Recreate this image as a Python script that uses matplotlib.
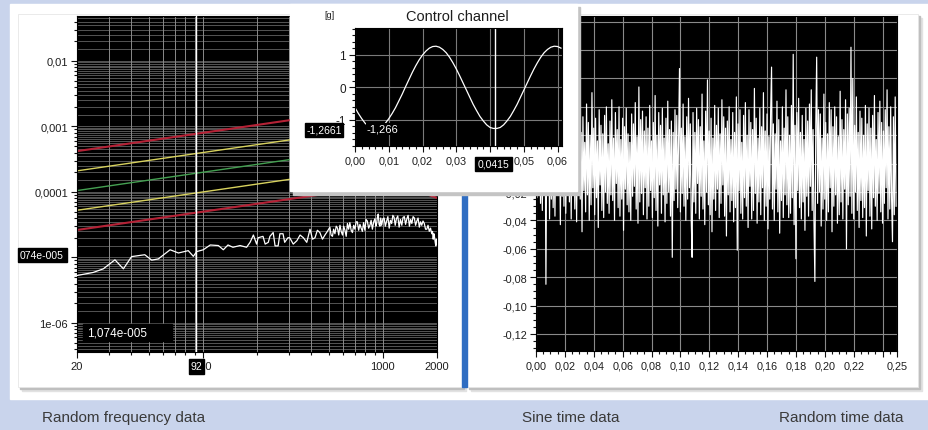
import numpy as np
import matplotlib
matplotlib.use('Agg')
import matplotlib.pyplot as plt
from matplotlib.patches import Rectangle
from matplotlib.ticker import LogLocator, MultipleLocator, NullFormatter

plt.rcParams['font.family'] = ['Liberation Sans', 'DejaVu Sans']
plt.rcParams['axes.unicode_minus'] = False

# ---------------- random frequency data (PSD) ----------------
psd_freq = [20, 24.6, 28, 32.5, 36.2, 40.2, 47.6, 52, 56.6, 65.8, 73.2, 83, 88.6, 92.5,
            100.6, 110, 122, 130, 138, 147, 161, 175, 183, 191, 199, 203, 216, 222, 231,
            236, 246, 252, 262, 268, 279, 285, 297, 304, 318, 333, 347, 362, 378, 394,
            407, 420, 433, 447, 462, 477, 492,
            508, 516, 525, 533, 542, 551, 560, 569, 578, 587, 597, 606, 616, 626, 636, 646,
            656, 667, 678, 689, 700, 711, 722, 734, 746, 758, 770, 782, 795, 807, 820, 834,
            848, 861, 875, 890, 904, 914, 924, 933, 943, 953, 964, 974, 985, 1001, 1017,
            1033, 1050, 1067, 1085, 1102, 1120, 1137, 1155, 1172, 1190, 1211, 1232, 1253,
            1275, 1296, 1317, 1338, 1360, 1382, 1405, 1427, 1450, 1473, 1497, 1521, 1545,
            1570, 1595, 1620, 1645, 1672, 1700, 1727, 1755, 1783, 1812, 1841, 1870, 1888,
            1905, 1922, 1940, 1955, 1970, 1985, 2000]
# values in 1e-6 g^2/Hz
psd_value = [5.3, 5.9, 6.7, 9.2, 6.7, 10.3, 11.0, 9.1, 9.5, 13.1, 11.7, 12.7, 10.4, 12.3,
             13.1, 15.5, 15.2, 13.1, 15.5, 14.3, 15.2, 14.3, 17, 22, 16, 20, 21, 16, 17,
             21, 24, 15, 15, 23, 23, 17, 20, 20, 16, 18, 22, 20, 17, 27,
             19, 20, 26, 24, 19, 22, 25,
             29, 22, 21, 27, 23, 30, 28, 22, 31, 25, 22, 30, 26, 21, 33, 27,
             34, 26, 24, 31, 27, 35, 35, 26, 32, 28, 25, 34, 26, 38, 36, 28,
             31, 37, 27, 35, 39, 30, 33, 41, 46, 32, 30, 40, 31, 39, 40,
             30, 36, 42, 28, 37, 33, 44, 41, 31, 39, 43, 29, 38,
             31, 41, 42, 32, 39, 44, 30, 38, 33, 42, 40, 31, 36,
             40, 29, 35, 31, 36, 33, 27, 27, 31, 25, 28, 23, 25,
             19, 23, 20, 17, 15, 19, 16]
profile_freq = [20, 1200, 2000]
profile_ref = [1.05e-4, 5.40e-4, 3.24e-4]
tol_factor = [4, 2, 1, 0.5, 0.25]
tol_color = ['#b52236', '#d8d25e', '#45a052', '#d8d25e', '#b52236']
tol_width = [1.5, 1.0, 1.0, 1.0, 1.5]
psd_cursor = 92
psd_xticks = [20, 100, 1000, 2000]
psd_xlabels = ['20', '100', '1000', '2000']
psd_yticks = [1e-6, 1e-5, 1e-4, 1e-3, 1e-2]
psd_ylabels = ['1e-06', '', '0,0001', '0,001', '0,01']

# ---------------- sine time data ----------------
sine_t_ms = list(range(62))
sine_g = [-0.62, -0.80, -0.96, -1.10, -1.19, -1.25, -1.27, -1.25, -1.19, -1.10, -0.96,
          -0.80, -0.62, -0.41, -0.20, 0.03, 0.25, 0.47, 0.67, 0.85, 1.00, 1.12, 1.21,
          1.26, 1.27, 1.24, 1.17, 1.07, 0.93, 0.76, 0.57, 0.36, 0.14, -0.08, -0.30,
          -0.52, -0.71, -0.89, -1.03, -1.15, -1.23, -1.26, -1.26, -1.23, -1.15, -1.03,
          -0.89, -0.71, -0.52, -0.30, -0.08, 0.14, 0.36, 0.57, 0.76, 0.93, 1.07, 1.17,
          1.24, 1.27, 1.26, 1.21]
sine_cursor = 0.0415
sine_xticks = [0.00, 0.01, 0.02, 0.03, 0.04, 0.05, 0.06]
sine_xlabels = ['0,00', '0,01', '0,02', '0,03', '', '0,05', '0,06']
sine_yticks = [-1, 0, 1]
sine_ylabels = ['-1', '0', '1']

# ---------------- random time data ----------------
rnd_rate = 1600  # samples per second
rnd_mg = [18, -24, 31, -15, 37, -28, 14, -33, 25, -20, 41, -85, 27, -12, 34, -39, 21, -25, 47, -31,
          15, -37, 28, -18, 38, -14, 23, -43, 32, -23, 17, -30, 39, -35, 12, -21, 44, -27, 24, -39,
          30, -16, 35, -32, 19, -41, 26, -13, 39, -25, 22, -48, 33, -19, 15, -34, 42, -22, 29, -40,
          20, -29, 50, -17, 25, -36, 32, -24, 16, -45, 38, -15, 27, -33, 21, -38, 34, -20, 40, -28,
          14, -35, 30, -22, 45, -26, 18, -40, 36, -14, 24, -31, 40, -37, 17, -25, 32, -47, 26, -18,
          39, -29, 21, -34, 15, -40, 35, -23, 28, -16, 43, -32, 19, -42, 54, -27, 31, -21, 37, -36,
          23, -17, 33, -39, 25, -30, 41, -19, 16, -38, 29, -24, 48, -33, 20, -44, 36, -15, 27, -35,
          39, -22, 18, -41, 32, -28, 44, -20, 24, -37, 30, -66, 22, -26, 38, -18, 34, -31, 17, 67,
          -34, 25, -21, 42, -30, 19, -40, 33, -25, 46, -17, 28, -40, -66, 36, -27, 22, -35, 39, -14,
          31, -39, 26, -23, 49, -32, 16, -43, 37, -20, 59, -29, 23, -36, 32, -48, 18, -25, 41, -33,
          27, -18, 39, -38, 21, -28, 45, -15, 33, -37, 25, -51, 30, -22, 40, -34, 17, -26, 36, -41,
          22, -31, 47, -61, 28, -19, 38, -35, 15, -39, 34, -24, 43, -30, 20, -45, 38, -16, 29, -39,
          24, -33, 53, -21, 32, -42, 18, -27, 39, -36, 26, -17, 50, -40, 23, -30, 35, -46, 19, -25,
          37, 68, -32, 28, -40, 21, -18, 44, -34, 31, -49, 16, -26, 40, -38, 25, -22, 52, -29, 33,
          -38, 20, -35, 41, -24, 77, -43, 27, -67, 36, -19, 46, -31, 22, -39, 34, -27, 17, -47, 39,
          -23, 30, -37, 42, -16, 52, -33, 24, -41, -83, 26, 75, -28, 38, -20, 35, -44, 18, -32, 49,
          -25, 29, -40, 21, -34, 43, -17, 38, -48, 26, -30, 40, -22, 33, -42, 19, -36, 51, -27, 31,
          -39, 24, -18, 45, -60, 35, -29, 39, -23, 82, -35, 60, -39, 27, -20, 47, -33, 22, -45, 37,
          -26, 32, -38, 20, -31, 41, -51, 28, -19, 39, -37, 25, -46, 34, -24, 48, -30, 17, -40, 36,
          -21, 44, -34, 29, -42, 23, -28, 38, -17, 52, -39, 26, -32, 40, -25, -55, 33, -36, 47, -30]
rnd_yticks = [-0.12, -0.10, -0.08, -0.06, -0.04, -0.02, 0.00, 0.02, 0.04, 0.06, 0.08, 0.10]
rnd_ylabels = ['-0,12', '-0,10', '-0,08', '-0,06', '-0,04', '-0,02', '0,00', '0,02',
               '0,04', '0,06', '0,08', '0,10']
rnd_xticks = [0.00, 0.02, 0.04, 0.06, 0.08, 0.10, 0.12, 0.14, 0.16, 0.18, 0.20, 0.22, 0.24, 0.25]
rnd_xlabels = ['0,00', '0,02', '0,04', '0,06', '0,08', '0,10', '0,12', '0,14', '0,16',
               '0,18', '0,20', '0,22', '', '0,25']

captions = ['Random frequency data', 'Sine time data', 'Random time data']

W, H = 929, 431
fig = plt.figure(figsize=(W / 100, H / 100), dpi=100)


def px_axes(x0, y0, x1, y1, z):
    ax = fig.add_axes([x0 / W, 1 - y1 / H, (x1 - x0) / W, (y1 - y0) / H])
    ax.set_zorder(z)
    return ax


def overlay(z):
    ax = px_axes(0, 0, W, H, z)
    ax.set_xlim(0, W)
    ax.set_ylim(H, 0)
    ax.axis('off')
    return ax


def style_ticks(ax, size):
    ax.tick_params(which='both', direction='out', color='#111111', labelcolor='#1e1e1e',
                   labelsize=size, width=0.8)
    ax.tick_params(which='major', length=4.5, pad=2)
    ax.tick_params(which='minor', length=2.5)
    for s in ax.spines.values():
        s.set_color('black')


# background + panels
bg = overlay(0)
bg.add_patch(Rectangle((0, 0), W, H, color='#c9d4ec'))
bg.add_patch(Rectangle((10, 5), W - 10, 395, color='white'))
for x0, y0, x1, y1 in [(18, 15, 462, 388), (467, 15, 918, 388)]:
    bg.add_patch(Rectangle((x0 + 4, y0 + 4), x1 - x0, y1 - y0, color='#e2e2e2'))
    bg.add_patch(Rectangle((x0 + 2, y0 + 2), x1 - x0, y1 - y0, color='#bfbfbf'))
    bg.add_patch(Rectangle((x0, y0), x1 - x0, y1 - y0, facecolor='white', edgecolor='#e6e6e6', lw=0.6))
bg.add_patch(Rectangle((462, 15), 5, 373, color='#2f6dc2'))
for cx, txt in zip([124, 571, 841], captions):
    bg.text(cx, 418, txt, ha='center', va='center', fontsize=11, color='#3a3a3a')

# ---- left: PSD ----
ax1 = px_axes(77, 17, 437, 353, 1)
ax1.set_facecolor('black')
ax1.set_xscale('log')
ax1.set_yscale('log')
ax1.set_xlim(20, 2000)
ax1.set_ylim(3.6e-7, 0.0486)
ax1.set_xticks(psd_xticks, psd_xlabels)
ax1.xaxis.set_minor_locator(LogLocator(base=10, subs=np.arange(2, 10), numticks=20))
ax1.xaxis.set_minor_formatter(NullFormatter())
ax1.set_yticks(psd_yticks, psd_ylabels)
ax1.yaxis.set_minor_locator(LogLocator(base=10, subs=np.arange(2, 10), numticks=20))
ax1.yaxis.set_minor_formatter(NullFormatter())
ax1.grid(which='both', axis='x', color='#8a8a8a', lw=0.7)
for e in range(-7, -1):
    for m in np.arange(1, 10, 0.5):
        ax1.axhline(m * 10.0 ** e, color='#6a6a6a', lw=0.55, zorder=0.5)
style_ticks(ax1, 8)
for fac, c, lw in zip(tol_factor, tol_color, tol_width):
    ax1.plot(profile_freq, np.array(profile_ref) * fac, color=c, lw=lw, zorder=2)
ax1.plot(psd_freq, np.array(psd_value) * 1e-6, color='white', lw=0.9, zorder=3)
ax1.axvline(psd_cursor, color='white', lw=1.0, zorder=3)

# ---- right: random time data ----
ax2 = px_axes(536, 17, 897, 352, 1)
ax2.set_facecolor('black')
ax2.set_axisbelow(True)
ax2.set_xlim(0, 0.25)
ax2.set_ylim(-0.132, 0.104)
ax2.set_xticks(rnd_xticks, rnd_xlabels)
ax2.set_yticks(rnd_yticks, rnd_ylabels)
ax2.xaxis.set_minor_locator(MultipleLocator(0.005))
ax2.yaxis.set_minor_locator(MultipleLocator(0.005))
ax2.grid(which='major', color='#8a8a8a', lw=0.8)
style_ticks(ax2, 7.8)
rnd_t = np.arange(len(rnd_mg)) / rnd_rate
ax2.plot(rnd_t, np.array(rnd_mg) * 1e-3, color='white', lw=0.85)

# ---- inset: sine time data ----
box = overlay(2)
box.add_patch(Rectangle((293, 8), 287, 188, color='#c4c4c4'))
box.add_patch(Rectangle((290, 5), 287, 187, color='white'))

ax3 = px_axes(355, 29, 562, 147, 3)
ax3.set_facecolor('black')
ax3.set_axisbelow(True)
ax3.set_xlim(0, 0.0613)
ax3.set_ylim(-1.8, 1.83)
ax3.set_xticks(sine_xticks, sine_xlabels)
ax3.set_yticks(sine_yticks, sine_ylabels)
ax3.xaxis.set_minor_locator(MultipleLocator(0.002))
ax3.yaxis.set_minor_locator(MultipleLocator(0.2))
ax3.grid(which='major', color='#7a7a7a', lw=0.8)
style_ticks(ax3, 7.8)
ax3.tick_params(axis='y', labelsize=8.5)
ax3.plot(np.array(sine_t_ms) * 1e-3, sine_g, color='white', lw=0.9)
ax3.axvline(sine_cursor, color='white', lw=1.0)
ax3.text(0.0034, -1.27, '-1,266', color='white', fontsize=8, va='center', ha='left',
         bbox=dict(facecolor='black', edgecolor='none', pad=0.6))

# ---- cursor read-outs and titles ----
top = overlay(5)
top.text(457, 17, 'Control channel', ha='center', va='center', fontsize=10.5, color='#1e1e1e')
top.text(330, 15, '[g]', ha='center', va='center', fontsize=6.5, color='#1e1e1e')
for (x0, y0, x1, y1), txt, tx, ha, fs in [
        ((18, 249, 67, 263), '074e-005', 20, 'left', 7.5),
        ((83, 325, 172, 342), '1,074e-005', 87, 'left', 8.5),
        ((189, 360, 204, 375), '92', 196.5, 'center', 7.5),
        ((305, 124, 343, 138), '-1,2661', 307, 'left', 7.5),
        ((475, 158, 512, 172), '0,0415', 493.5, 'center', 7.5)]:
    top.add_patch(Rectangle((x0, y0), x1 - x0, y1 - y0, color='black'))
    top.text(tx, (y0 + y1) / 2, txt, ha=ha, va='center', fontsize=fs, color='white')

fig.savefig('out.png', dpi=100)
